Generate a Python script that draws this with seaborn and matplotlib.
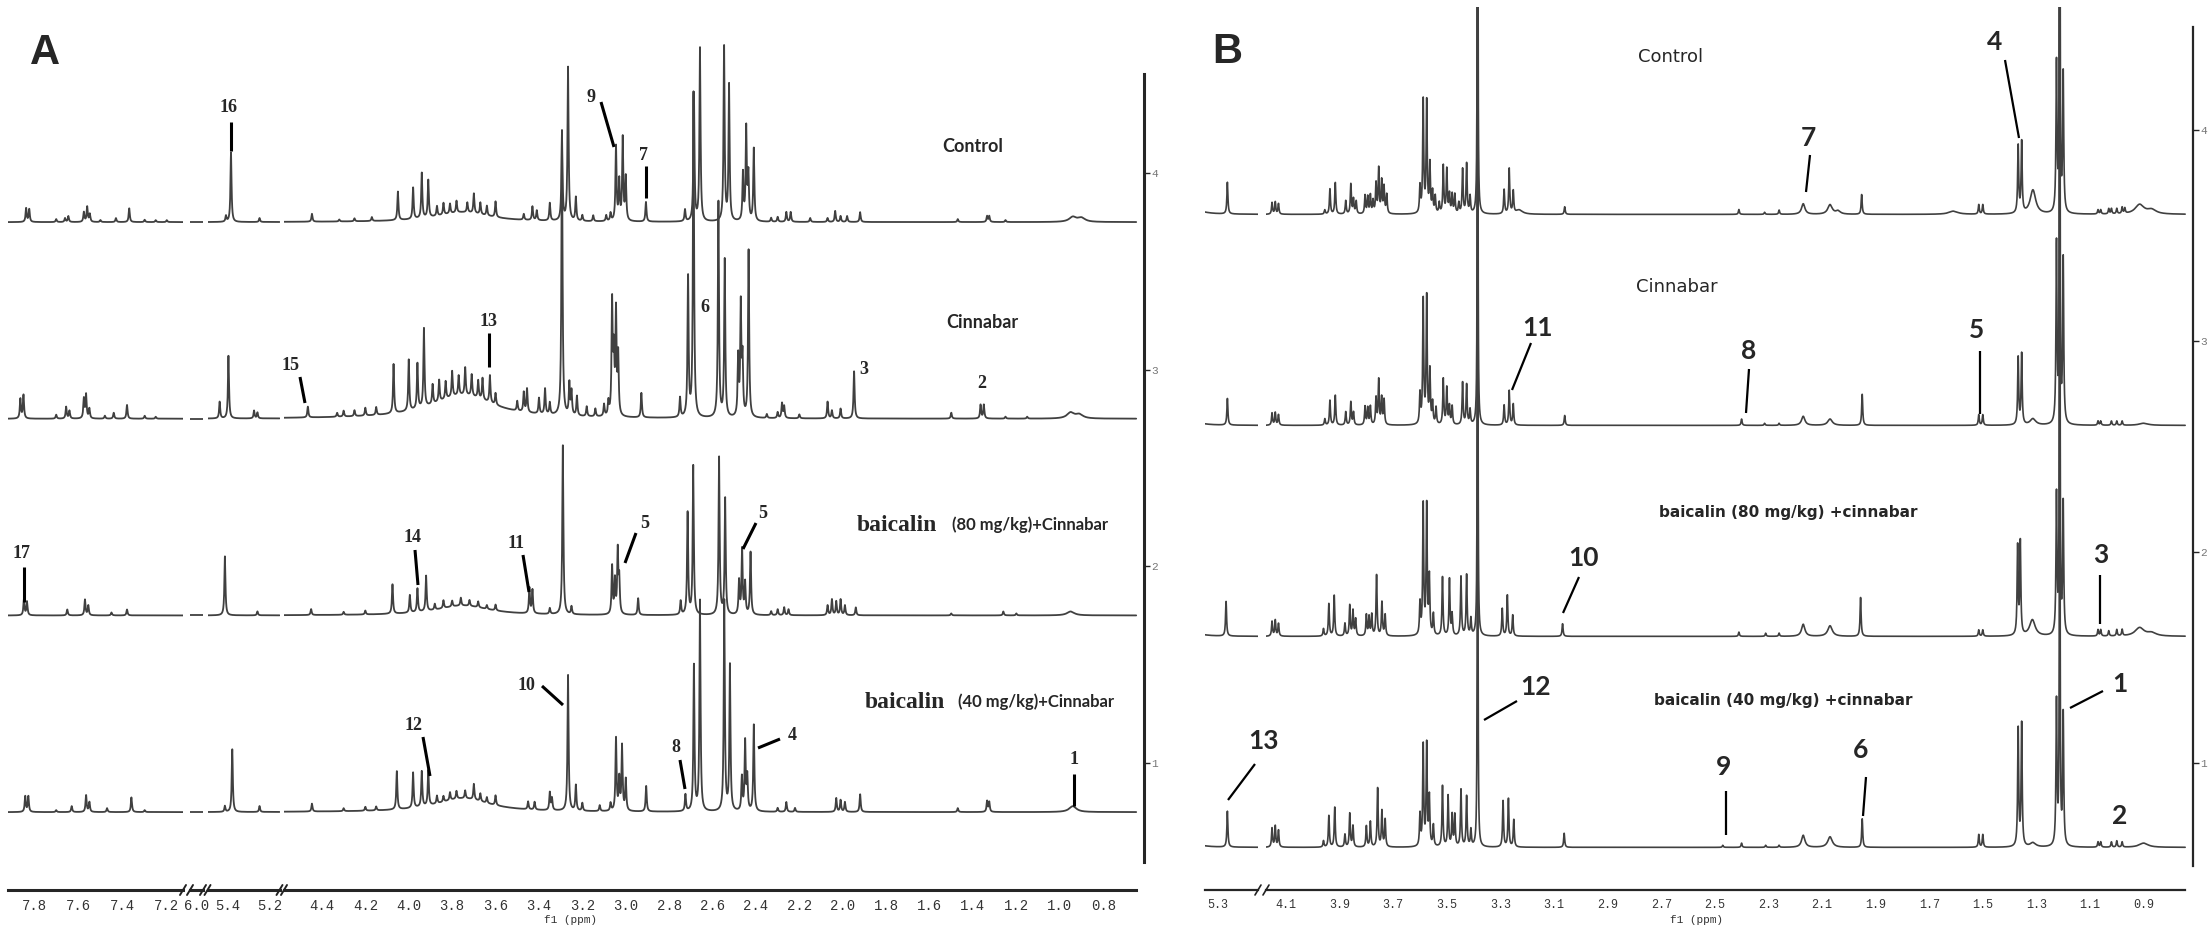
import numpy as np
import pandas as pd
import seaborn as sns
import matplotlib.pyplot as plt

# ---------------- peak tables (ppm, height[, width]) ----------------
# panel A
a_control = [(7.836, 0.07), (7.822, 0.065), (7.70, 0.015), (7.66, 0.02), (7.645, 0.03),
             (7.575, 0.05), (7.56, 0.077), (7.548, 0.04), (7.50, 0.01), (7.43, 0.02),
             (7.37, 0.07), (7.30, 0.012), (7.25, 0.01), (7.20, 0.01),
             (5.41, 0.03), (5.386, 0.355), (5.25, 0.02),
             (4.446, 0.04), (4.32, 0.01), (4.25, 0.015), (4.17, 0.02), (4.05, 0.145),
             (3.98, 0.16), (3.94, 0.23), (3.91, 0.19), (3.75, 0.05, 0.30),
             (3.87, 0.05), (3.84, 0.06), (3.81, 0.05), (3.78, 0.06), (3.73, 0.05),
             (3.70, 0.10), (3.67, 0.06), (3.64, 0.05), (3.60, 0.08), (3.47, 0.03),
             (3.43, 0.07), (3.41, 0.05), (3.35, 0.09), (3.294, 0.44), (3.266, 0.78),
             (3.23, 0.12), (3.20, 0.03), (3.15, 0.03), (3.09, 0.03), (3.07, 0.04),
             (3.045, 0.38), (3.03, 0.20), (3.014, 0.42), (3.00, 0.22), (2.907, 0.10),
             (2.727, 0.06), (2.686, 0.65), (2.658, 0.88), (2.547, 0.89), (2.524, 0.69),
             (2.46, 0.24), (2.445, 0.47), (2.435, 0.23), (2.41, 0.37), (2.33, 0.02),
             (2.30, 0.025), (2.26, 0.05), (2.24, 0.05), (2.15, 0.02), (2.07, 0.02),
             (2.035, 0.056), (2.01, 0.03), (1.98, 0.03), (1.92, 0.05), (1.47, 0.015),
             (1.335, 0.03), (1.325, 0.03), (1.25, 0.01), (0.94, 0.025, 0.04), (0.90, 0.02, 0.04)]
a_cinnabar = [(7.862, 0.10), (7.848, 0.12), (7.70, 0.02), (7.655, 0.06), (7.64, 0.04),
              (7.575, 0.10), (7.565, 0.12), (7.55, 0.05), (7.48, 0.015), (7.44, 0.03),
              (7.38, 0.07), (7.30, 0.015), (7.25, 0.01),
              (5.44, 0.085), (5.398, 0.32), (5.276, 0.04), (5.26, 0.03),
              (4.465, 0.055), (4.33, 0.02), (4.30, 0.03), (4.25, 0.03), (4.20, 0.04),
              (4.15, 0.04), (4.07, 0.25), (4.00, 0.26), (3.96, 0.23), (3.93, 0.40),
              (3.75, 0.12, 0.35), (3.89, 0.10), (3.86, 0.11), (3.83, 0.09), (3.80, 0.13),
              (3.77, 0.10), (3.74, 0.14), (3.71, 0.11), (3.68, 0.09), (3.66, 0.11),
              (3.626, 0.14), (3.60, 0.06), (3.50, 0.05), (3.47, 0.10), (3.455, 0.12),
              (3.40, 0.08), (3.372, 0.13), (3.35, 0.06), (3.294, 1.45), (3.26, 0.16),
              (3.25, 0.12), (3.225, 0.10), (3.18, 0.05), (3.14, 0.04), (3.10, 0.06),
              (3.08, 0.07), (3.063, 0.57), (3.055, 0.30), (3.045, 0.52), (3.035, 0.30),
              (2.928, 0.125), (2.75, 0.10), (2.713, 0.71), (2.688, 1.65), (2.573, 1.10),
              (2.544, 0.80), (2.482, 0.30), (2.47, 0.56), (2.462, 0.28), (2.434, 0.85),
              (2.35, 0.02), (2.30, 0.03), (2.28, 0.075), (2.27, 0.06), (2.20, 0.02),
              (2.07, 0.085), (2.05, 0.04), (2.01, 0.05), (1.948, 0.24), (1.50, 0.03),
              (1.365, 0.07), (1.35, 0.07), (1.25, 0.01), (1.15, 0.01),
              (0.95, 0.03, 0.04), (0.91, 0.02, 0.04)]
a_baic80 = [(7.846, 0.08), (7.832, 0.07), (7.65, 0.03), (7.57, 0.08), (7.555, 0.05),
            (7.45, 0.015), (7.38, 0.03),
            (5.415, 0.30), (5.26, 0.02),
            (4.45, 0.03), (4.30, 0.015), (4.20, 0.02), (4.075, 0.15), (3.995, 0.09),
            (3.96, 0.12), (3.92, 0.18), (3.75, 0.05, 0.30), (3.88, 0.03), (3.84, 0.04),
            (3.80, 0.03), (3.76, 0.04), (3.72, 0.03), (3.68, 0.03), (3.64, 0.02),
            (3.60, 0.03), (3.444, 0.13), (3.43, 0.12), (3.35, 0.03), (3.29, 0.86),
            (3.25, 0.04), (3.063, 0.245), (3.05, 0.17), (3.037, 0.32), (3.03, 0.17),
            (2.943, 0.085), (2.747, 0.07), (2.715, 0.52), (2.689, 0.76), (2.57, 0.80),
            (2.542, 0.59), (2.478, 0.17), (2.464, 0.33), (2.45, 0.16), (2.425, 0.32),
            (2.33, 0.02), (2.30, 0.03), (2.27, 0.04), (2.25, 0.03), (2.07, 0.05),
            (2.05, 0.08), (2.03, 0.07), (2.01, 0.08), (1.99, 0.05), (1.94, 0.04),
            (1.50, 0.01), (1.26, 0.02), (1.20, 0.01), (0.95, 0.02, 0.04)]
a_baic40 = [(7.84, 0.08), (7.826, 0.08), (7.70, 0.01), (7.63, 0.03), (7.565, 0.085),
            (7.55, 0.05), (7.47, 0.02), (7.36, 0.075), (7.30, 0.01),
            (5.415, 0.03), (5.38, 0.32), (5.25, 0.03),
            (4.446, 0.04), (4.30, 0.015), (4.20, 0.02), (4.15, 0.02), (4.055, 0.195),
            (3.98, 0.18), (3.94, 0.18), (3.91, 0.18), (3.75, 0.07, 0.30), (3.87, 0.04),
            (3.84, 0.03), (3.81, 0.04), (3.78, 0.04), (3.74, 0.04), (3.70, 0.08),
            (3.67, 0.04), (3.64, 0.03), (3.60, 0.05), (3.45, 0.04), (3.42, 0.04),
            (3.35, 0.09), (3.34, 0.06), (3.266, 0.69), (3.23, 0.13), (3.20, 0.04),
            (3.12, 0.03), (3.07, 0.04), (3.045, 0.37), (3.03, 0.16), (3.017, 0.33),
            (3.00, 0.16), (2.906, 0.13), (2.725, 0.085), (2.686, 0.74), (2.658, 1.07),
            (2.546, 1.07), (2.52, 0.74), (2.465, 0.17), (2.45, 0.35), (2.44, 0.17),
            (2.41, 0.44), (2.30, 0.02), (2.26, 0.05), (2.22, 0.02), (2.03, 0.07),
            (2.01, 0.06), (1.99, 0.05), (1.92, 0.09), (1.47, 0.02), (1.335, 0.055),
            (1.325, 0.05), (0.94, 0.03, 0.04)]

# panel B
b_control = [(5.40, 0.03, 0.08), (5.265, 0.15),
             (4.152, 0.055), (4.14, 0.058), (4.128, 0.05), (3.955, 0.02), (3.936, 0.12),
             (3.916, 0.15), (3.877, 0.063), (3.858, 0.142), (3.848, 0.07), (3.838, 0.06),
             (3.805, 0.087), (3.795, 0.08), (3.785, 0.087), (3.775, 0.06), (3.764, 0.142),
             (3.754, 0.213), (3.743, 0.153), (3.734, 0.126), (3.724, 0.09), (3.60, 0.126),
             (3.588, 0.537), (3.575, 0.526), (3.563, 0.23), (3.553, 0.10), (3.543, 0.08),
             (3.528, 0.05), (3.513, 0.226), (3.50, 0.21), (3.49, 0.09), (3.48, 0.09),
             (3.47, 0.09), (3.455, 0.05), (3.441, 0.21), (3.426, 0.237), (3.413, 0.08),
             (3.385, 4.5, 0.002), (3.286, 0.115), (3.267, 0.213), (3.252, 0.106),
             (3.23, 0.02, 0.03), (3.06, 0.036), (2.41, 0.023), (2.314, 0.01), (2.26, 0.02),
             (2.17, 0.05, 0.015), (2.07, 0.045, 0.02), (2.04, 0.015, 0.02), (1.952, 0.094),
             (1.61, 0.015, 0.04), (1.515, 0.045), (1.50, 0.045), (1.368, 0.32),
             (1.355, 0.335), (1.313, 0.114, 0.025), (1.225, 0.705), (1.213, 4.5, 0.002),
             (1.20, 0.66), (1.07, 0.02), (1.06, 0.02), (1.03, 0.025), (1.02, 0.025),
             (1.00, 0.025), (0.98, 0.03), (0.97, 0.025), (0.915, 0.045, 0.04),
             (0.87, 0.02, 0.04)]
b_cinnabar = [(5.40, 0.02, 0.08), (5.265, 0.126),
              (4.152, 0.058), (4.14, 0.06), (4.128, 0.05), (3.955, 0.03), (3.936, 0.118),
              (3.916, 0.142), (3.877, 0.063), (3.858, 0.11), (3.848, 0.06), (3.805, 0.087),
              (3.795, 0.08), (3.785, 0.087), (3.764, 0.126), (3.754, 0.213), (3.743, 0.126),
              (3.734, 0.118), (3.60, 0.142), (3.588, 0.59), (3.575, 0.60), (3.563, 0.25),
              (3.553, 0.10), (3.54, 0.08), (3.513, 0.216), (3.50, 0.174), (3.49, 0.087),
              (3.48, 0.087), (3.441, 0.20), (3.426, 0.19), (3.413, 0.07),
              (3.385, 4.5, 0.002), (3.286, 0.095), (3.267, 0.163), (3.252, 0.10),
              (3.06, 0.047), (2.40, 0.03), (2.314, 0.01), (2.26, 0.01), (2.17, 0.043, 0.015),
              (2.07, 0.03, 0.02), (1.95, 0.148), (1.515, 0.05), (1.50, 0.05), (1.368, 0.32),
              (1.355, 0.335), (1.313, 0.03, 0.025), (1.225, 0.85), (1.213, 4.5, 0.002),
              (1.20, 0.78), (1.07, 0.02), (1.06, 0.02), (1.02, 0.02), (1.00, 0.02),
              (0.98, 0.02), (0.90, 0.01, 0.04)]
b_baic80 = [(5.40, 0.02, 0.08), (5.27, 0.165),
            (4.152, 0.07), (4.14, 0.076), (4.128, 0.06), (3.96, 0.035), (3.94, 0.154),
            (3.92, 0.194), (3.88, 0.06), (3.862, 0.146), (3.85, 0.12), (3.84, 0.08),
            (3.80, 0.10), (3.79, 0.09), (3.78, 0.10), (3.762, 0.29), (3.742, 0.16),
            (3.73, 0.10), (3.60, 0.15), (3.588, 0.62), (3.575, 0.61), (3.565, 0.27),
            (3.55, 0.10), (3.516, 0.28), (3.49, 0.27), (3.48, 0.10), (3.447, 0.28),
            (3.426, 0.29), (3.41, 0.08), (3.385, 4.5, 0.002), (3.293, 0.13), (3.274, 0.195),
            (3.254, 0.10), (3.068, 0.06), (2.41, 0.02), (2.31, 0.015), (2.26, 0.015),
            (2.17, 0.057, 0.015), (2.07, 0.05, 0.02), (1.956, 0.185), (1.515, 0.03),
            (1.50, 0.03), (1.37, 0.42), (1.36, 0.44), (1.315, 0.077, 0.025), (1.225, 0.66),
            (1.213, 4.5, 0.002), (1.20, 0.625), (1.07, 0.03), (1.06, 0.03), (1.03, 0.025),
            (1.00, 0.03), (0.98, 0.03), (0.915, 0.04, 0.04), (0.87, 0.015, 0.04)]
b_baic40 = [(5.40, 0.02, 0.08), (5.265, 0.17),
            (4.152, 0.09), (4.14, 0.10), (4.128, 0.08), (3.96, 0.03), (3.94, 0.15),
            (3.918, 0.19), (3.88, 0.06), (3.862, 0.16), (3.85, 0.10), (3.80, 0.10),
            (3.785, 0.12), (3.758, 0.28), (3.742, 0.17), (3.73, 0.13), (3.60, 0.15),
            (3.588, 0.48), (3.575, 0.48), (3.565, 0.23), (3.55, 0.10), (3.516, 0.29),
            (3.495, 0.24), (3.48, 0.15), (3.47, 0.15), (3.447, 0.27), (3.426, 0.24),
            (3.41, 0.08), (3.385, 4.5, 0.002), (3.29, 0.22), (3.27, 0.23), (3.25, 0.13),
            (3.062, 0.067), (2.47, 0.01), (2.40, 0.02), (2.31, 0.01), (2.26, 0.01),
            (2.17, 0.057, 0.015), (2.07, 0.05, 0.02), (1.95, 0.136), (1.515, 0.06),
            (1.50, 0.06), (1.368, 0.56), (1.355, 0.58), (1.313, 0.02, 0.025), (1.225, 0.68),
            (1.213, 4.5, 0.002), (1.20, 0.625), (1.07, 0.025), (1.06, 0.025), (1.02, 0.025),
            (1.00, 0.03), (0.98, 0.025), (0.90, 0.02, 0.04)]

a_spectra = [a_control, a_cinnabar, a_baic80, a_baic40]
b_spectra = [b_control, b_cinnabar, b_baic80, b_baic40]
a_offsets = [3.75, 2.75, 1.75, 0.75]
b_offsets = [3.6, 2.6, 1.6, 0.6]

a_names = ['Control', 'Cinnabar']
b_names = ['Control', 'Cinnabar', 'baicalin (80 mg/kg) +cinnabar', 'baicalin (40 mg/kg) +cinnabar']

# segments: (ppm left, ppm right, data right, px left, px right)
a_segs = [(7.918, 7.127, 7.127, 8, 183), (6.03, 5.97, 5.97, 190, 203),
          (5.498, 5.155, 5.155, 207.5, 279.5), (4.575, 0.612, 0.648, 284, 1144)]
b_segs = [(5.3485, 5.151, 5.151, 1205, 1258), (4.1746, 0.7157, 0.745, 1266, 2193)]

# ---------------- figure ----------------
W, H = 2212, 939
sns.set_style('white')
plt.rcParams['font.family'] = ['Liberation Mono', 'DejaVu Sans']
fig = plt.figure(figsize=(W / 100, H / 100), dpi=100)
LINE = '#404040'


def spectrum(x, peaks, base, w0):
    y = np.full_like(x, base)
    for p in peaks:
        w = p[2] if len(p) > 2 else w0
        y = y + p[1] / (1 + ((x - p[0]) / (w / 2)) ** 2)
    return y


def panel(segs, spectra, offsets, w0, top, bottom, ylim, rbounds, major0, minor, lw_sp, lsize, lw_line):
    axes = []
    for i, (hi, lo, dend, xl, xr) in enumerate(segs):
        ax = fig.add_axes([xl / W, 1 - bottom / H, (xr - xl) / W, (bottom - top) / H])
        ax.patch.set_alpha(0)
        x = np.arange(dend, hi, 0.0004)
        for pk, off in zip(spectra, offsets):
            df = pd.DataFrame({'ppm': x, 'i': spectrum(x, pk, off, w0)})
            sns.lineplot(data=df, x='ppm', y='i', ax=ax, color=LINE, lw=lw_line,
                         estimator=None, sort=False)
        ax.set_xlim(hi, lo)
        ax.set_ylim(*ylim)
        ax.set_xlabel('')
        ax.set_ylabel('')
        for s in ['top', 'left', 'right']:
            ax.spines[s].set_visible(False)
        ax.spines['bottom'].set_linewidth(lw_sp)
        ax.spines['bottom'].set_bounds(dend, hi)
        # ticks
        start = np.ceil(round((lo - major0) / 0.2, 6)) * 0.2 + major0
        majors = [t for t in np.arange(start, hi + 1e-6, 0.2) if lo - 1e-6 <= t <= hi + 1e-6]
        minors = [t for t in np.arange(np.ceil(lo / minor) * minor, hi + 1e-6, minor)]
        ax.set_xticks(majors)
        ax.set_xticklabels(['%.1f' % t for t in majors])
        ax.set_xticks(minors, minor=True)
        ax.tick_params(axis='x', which='major', direction='out', length=4.5, width=1.3,
                       labelsize=lsize, pad=2, colors='#222222', labelcolor='#333333')
        ax.tick_params(axis='x', which='minor', direction='out', length=3.5, width=1.1,
                       colors='#222222')
        ax.set_yticks([])
        axes.append(ax)
    last = axes[-1]
    last.spines['right'].set_visible(True)
    last.spines['right'].set_linewidth(lw_sp)
    last.spines['right'].set_bounds(*rbounds)
    last.yaxis.tick_right()
    last.set_yticks([1, 2, 3, 4])
    last.tick_params(axis='y', direction='out', length=4, width=1.0, labelsize=8,
                     labelcolor='#777777', pad=1)
    return axes


a_axes = panel(a_segs, a_spectra, a_offsets, 0.006, 40, 890, (0.354, 4.676),
               (0.497, 4.503), 0.0, 0.1, 2.2, 10, 1.3)
b_axes = panel(b_segs, b_spectra, b_offsets, 0.0045, 7, 890, (0.398, 4.583),
               (0.512, 4.488), 0.1, 0.05, 1.6, 8.5, 1.2)

# ---------------- overlay for labels ----------------
ov = fig.add_axes([0, 0, 1, 1])
ov.set_xlim(0, W)
ov.set_ylim(H, 0)
ov.axis('off')
ov.patch.set_alpha(0)

# axis break marks
for xb in [183, 190, 203, 207.5, 279.5, 284]:
    ov.plot([xb - 3, xb + 3], [895, 885], color='#222222', lw=1.4)
for xb in [1258, 1266]:
    ov.plot([xb - 3, xb + 3], [895, 885], color='#222222', lw=1.2)

ov.text(571, 920, 'f1 (ppm)', ha='center', va='center', fontsize=8, color='#333333',
        family='Liberation Mono')
ov.text(1697, 920, 'f1 (ppm)', ha='center', va='center', fontsize=8, color='#333333',
        family='Liberation Mono')

ov.text(45, 53, 'A', ha='center', va='center', fontsize=30, fontweight='bold',
        family='Liberation Sans')
ov.text(1227, 52, 'B', ha='center', va='center', fontsize=30, fontweight='bold',
        family='Liberation Sans')

# panel A group names
ov.text(973, 147, a_names[0], ha='center', va='center', fontsize=13, fontweight='bold', family='Lato')
ov.text(982, 322, a_names[1], ha='center', va='center', fontsize=13, fontweight='bold', family='Lato')
for y0, xb, xr, dose in [(531, 857, 952, '(80 mg/kg)+Cinnabar'), (708, 865, 958, '(40 mg/kg)+Cinnabar')]:
    ov.text(xb, y0, 'baicalin', ha='left', va='baseline', fontsize=17, fontweight='bold',
            family='Liberation Serif')
    ov.text(xr, y0 - 1, dose, ha='left', va='baseline', fontsize=12, fontweight='bold', family='Lato')

# panel B group names
ov.text(1671, 57, b_names[0], ha='center', va='center', fontsize=13, family='DejaVu Sans')
ov.text(1677, 287, b_names[1], ha='center', va='center', fontsize=13, family='DejaVu Sans')
ov.text(1788, 513, b_names[2], ha='center', va='center', fontsize=11, fontweight='bold', family='DejaVu Sans')
ov.text(1783, 701, b_names[3], ha='center', va='center', fontsize=11, fontweight='bold', family='DejaVu Sans')

# peak labels: (text, text x, text y, line x0, y0, x1, y1)
a_marks = [('16', 229, 108, 231, 122, 231, 151), ('9', 591, 97, 601, 102, 614, 147),
           ('7', 644, 155, 646, 166, 646, 198), ('13', 489, 321, 489, 333, 489, 367),
           ('15', 291, 366, 300, 377, 305, 403), ('6', 705, 307, None, None, None, None),
           ('3', 864, 370, None, None, None, None), ('2', 982, 384, None, None, None, None),
           ('17', 22, 553, 24, 567, 24, 602), ('14', 413, 537, 415, 550, 418, 585),
           ('11', 516, 543, 523, 555, 529, 592), ('5', 645, 524, 636, 533, 625, 563),
           ('5', 763, 514, 756, 523, 743, 549), ('10', 526, 685, 542, 686, 563, 705),
           ('12', 414, 725, 423, 737, 430, 776), ('8', 676, 748, 680, 760, 685, 789),
           ('4', 792, 735, 780, 739, 758, 748), ('1', 1074, 760, 1074, 774, 1074, 806)]
b_marks = [('4', 1995, 42, 2005, 60, 2019, 138), ('7', 1808, 138, 1810, 155, 1806, 192),
           ('11', 1537, 328, 1531, 343, 1512, 390), ('8', 1749, 351, 1749, 369, 1746, 413),
           ('5', 1977, 330, 1980, 351, 1980, 414), ('10', 1584, 558, 1579, 577, 1563, 613),
           ('3', 2101, 555, 2100, 575, 2100, 624), ('12', 1536, 687, 1517, 701, 1484, 720),
           ('1', 2120, 684, 2103, 691, 2070, 708), ('13', 1264, 741, 1255, 764, 1228, 800),
           ('9', 1724, 767, 1726, 791, 1726, 835), ('6', 1861, 750, 1866, 777, 1863, 816),
           ('2', 2120, 816, None, None, None, None)]

for t, tx, ty, x0, y0, x1, y1 in a_marks:
    ov.text(tx, ty, t, ha='center', va='center', fontsize=13, fontweight='bold',
            family='Liberation Serif')
    if x0 is not None:
        ov.plot([x0, x1], [y0, y1], color='black', lw=2.2, solid_capstyle='butt')
for t, tx, ty, x0, y0, x1, y1 in b_marks:
    ov.text(tx, ty, t, ha='center', va='center', fontsize=19, fontweight='bold', family='Lato')
    if x0 is not None:
        ov.plot([x0, x1], [y0, y1], color='black', lw=1.6, solid_capstyle='butt')

fig.savefig('out.png', dpi=100, facecolor='white')
